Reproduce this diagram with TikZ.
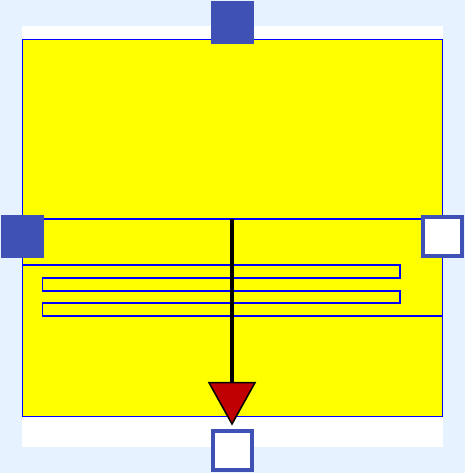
\documentclass[tikz,border=0pt]{standalone}
\usetikzlibrary{arrows.meta}
\definecolor{bg}{RGB}{230,242,255}
\definecolor{sq}{RGB}{63,81,181}
\definecolor{tri}{RGB}{192,0,0}
\definecolor{bodyyellow}{RGB}{255,255,0}
\definecolor{wireblue}{RGB}{0,0,255}
\tikzset{
  filledport/.style={rectangle, fill=sq, minimum size=43pt, inner sep=0pt},
  hollowport/.style={rectangle, fill=white, draw=sq, line width=4pt, minimum size=39pt, inner sep=0pt},
  bodybox/.style={rectangle, fill=bodyyellow, draw=wireblue, line width=1pt, minimum width=420pt, minimum height=377.5pt, inner sep=0pt},
  wire/.style={draw=wireblue, line width=1.4pt},
  stem/.style={draw=black, line width=3.5pt},
  tiptri/.style={fill=tri, draw=black, line width=1.5pt, line join=miter}
}
\begin{document}
\begin{tikzpicture}[x=1pt,y=-1pt]
\fill[bg] (0,0) rectangle (465,473);
\useasboundingbox (0,0) rectangle (465,473);
\fill[white] (22,26) rectangle (443,447);
\node[bodybox] (body) at (232.4,228.2) {};
% coordinates
\coordinate (hl) at (22.4,219);
\coordinate (hr) at (442.4,219);
\coordinate (sstart) at (22.4,265);
\coordinate (send) at (442.4,316);
\coordinate (stemtop) at (232,219);
\coordinate (tl) at (209,382.7);
\coordinate (tr) at (255,382.7);
\coordinate (tapex) at (232,424);
% wires
\draw[wire] (hl) -- (hr);
\draw[wire, line join=miter] (sstart) -- (400,265) -- (400,278) -- (42.7,278) -- (42.7,291) -- (400,291) -- (400,303) -- (42.7,303) -- (42.7,316) -- (send);
% arrow
\draw[stem] (stemtop) -- (232,384);
\draw[tiptri] (tl) -- (tr) -- (tapex) -- cycle;
% ports
\node[filledport] (ptop) at (232.5,22.3) {};
\node[filledport] (pleft) at (22.4,236.3) {};
\node[hollowport] (pright) at (442.3,236.3) {};
\node[hollowport] (pbottom) at (232.3,450.3) {};
\end{tikzpicture}
\end{document}
